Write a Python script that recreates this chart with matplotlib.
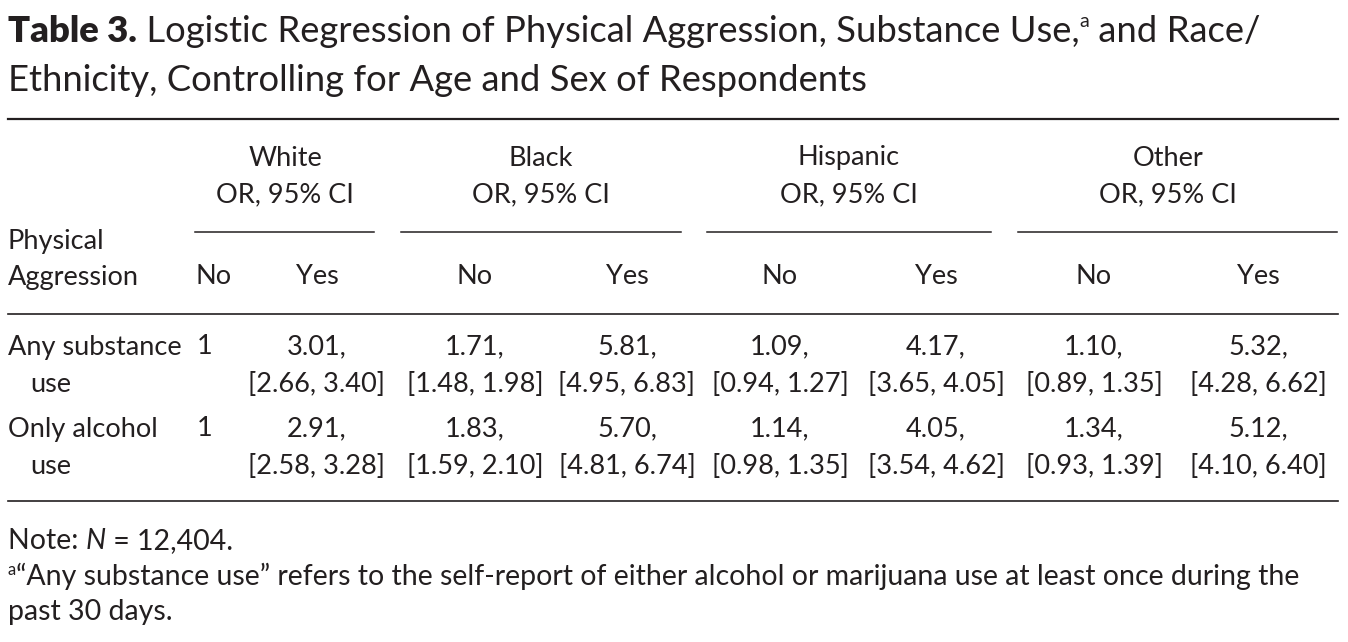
import matplotlib.pyplot as plt

# === Table content ===
title_bold = "Table 3."
title_line1 = " Logistic Regression of Physical Aggression, Substance Use,"
title_line1_end = " and Race/"
title_line2 = "Ethnicity, Controlling for Age and Sex of Respondents"

groups = ["White", "Black", "Hispanic", "Other"]
group_sub = "OR, 95% CI"
row_header = ["Physical", "Aggression"]
sub_cols = ["No", "Yes", "No", "Yes", "No", "Yes", "No", "Yes"]

row_labels = [("Any substance", "use"), ("Only alcohol", "use")]
any_or = ["1", "3.01,", "1.71,", "5.81,", "1.09,", "4.17,", "1.10,", "5.32,"]
any_ci = ["", "[2.66, 3.40]", "[1.48, 1.98]", "[4.95, 6.83]",
          "[0.94, 1.27]", "[3.65, 4.05]", "[0.89, 1.35]", "[4.28, 6.62]"]
alc_or = ["1", "2.91,", "1.83,", "5.70,", "1.14,", "4.05,", "1.34,", "5.12,"]
alc_ci = ["", "[2.58, 3.28]", "[1.59, 2.10]", "[4.81, 6.74]",
          "[0.98, 1.35]", "[3.54, 4.62]", "[0.93, 1.39]", "[4.10, 6.40]"]
or_rows = [any_or, alc_or]
ci_rows = [any_ci, alc_ci]

note_n = "12,404."
footnote = ("\u201cAny substance use\u201d refers to the self-report of either alcohol "
            "or marijuana use at least once during the")
footnote2 = "past 30 days."

# === Layout (pixel coordinates) ===
W, H = 1348, 642
ink = "#231f20"
plt.rcParams['font.family'] = ['Lato', 'DejaVu Sans']

fig = plt.figure(figsize=(W / 100, H / 100), dpi=100)
ax = fig.add_axes([0, 0, 1, 1])
ax.set_xlim(0, W)
ax.set_ylim(H, 0)
ax.axis("off")
renderer = fig.canvas.get_renderer()


def chain(x, y, pieces, size):
    # draw text pieces one after another on the same line
    for txt, kw in pieces:
        dy = kw.pop("dy", 0)
        t = ax.text(x, y + dy, txt, fontsize=kw.pop("size", size), color=ink,
                    ha="left", va="baseline", **kw)
        bb = t.get_window_extent(renderer)
        x += bb.width * W / fig.bbox.width
    return x


# title
chain(8, 42, [(title_bold, {"weight": "heavy"}), (title_line1, {}),
              ("a", {"size": 14, "dy": -15}), (title_line1_end, {})], 26.2)
chain(8, 91, [(title_line2, {})], 26.2)

# rules
ax.plot([8, 1338], [119, 119], color=ink, lw=1.6)
ax.plot([8, 1338], [314, 314], color=ink, lw=1.2)
ax.plot([8, 1338], [501, 501], color=ink, lw=1.2)

group_x = [285, 541, 849, 1168]
group_span = [(195, 374), (401, 681), (707, 991), (1018, 1337)]
col_x = [214, 317, 475, 627, 780, 936, 1094, 1258]
fs = 19.5

for g, gx, (x0, x1) in zip(groups, group_x, group_span):
    ax.text(gx, 158, g, fontsize=fs, color=ink, ha="center", va="center")
    ax.text(gx, 195, group_sub, fontsize=fs, color=ink, ha="center", va="center")
    ax.plot([x0, x1], [232, 232], color=ink, lw=1.1)

ax.text(8, 241, row_header[0], fontsize=fs, color=ink, ha="left", va="center")
ax.text(8, 277, row_header[1], fontsize=fs, color=ink, ha="left", va="center")
for c, cx in zip(sub_cols, col_x):
    ax.text(cx, 277, c, fontsize=fs, color=ink, ha="center", va="center")

row_y = [347, 429]
for (lab1, lab2), y, ors, cis in zip(row_labels, row_y, or_rows, ci_rows):
    ax.text(8, y, lab1, fontsize=fs, color=ink, ha="left", va="center")
    ax.text(30, y + 37, lab2, fontsize=fs, color=ink, ha="left", va="center")
    for j, (o, ci) in enumerate(zip(ors, cis)):
        if j == 0:
            ax.text(197, y, o, fontsize=fs, color=ink, ha="left", va="center")
            continue
        ax.text(col_x[j], y, o, fontsize=fs, color=ink, ha="center", va="center")
        ax.text(col_x[j], y + 37, ci, fontsize=fs, color=ink, ha="center", va="center")

# notes
chain(8, 549, [("Note: ", {}), ("N", {"style": "italic"}), (" = " + note_n, {})], 20.5)
chain(8, 585, [("a", {"size": 12, "dy": -10}), (footnote, {})], 20.5)
chain(8, 620, [(footnote2, {})], 20.5)

fig.savefig("out.png", dpi=100, facecolor="white")
